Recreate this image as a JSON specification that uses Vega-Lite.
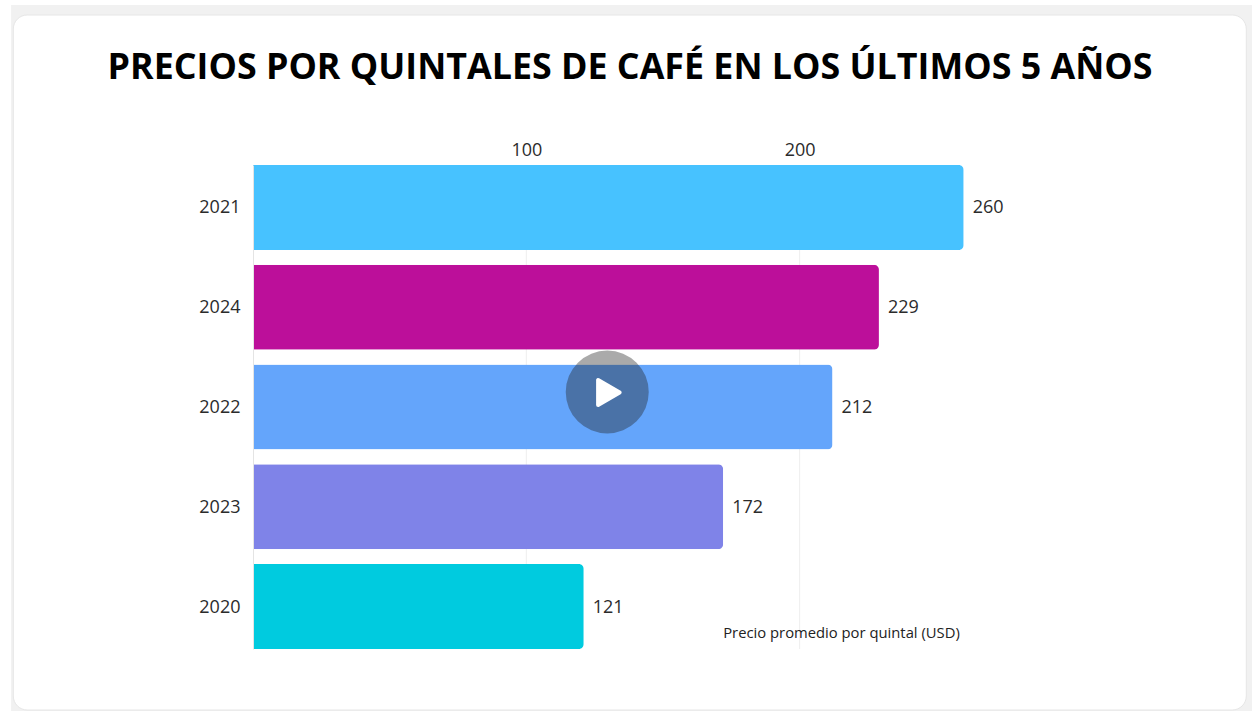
{
"$schema":"https://vega.github.io/schema/vega-lite/v6.json",
"autosize":{"type":"none"},
"width":820,"height":484,
"padding":{"left":253,"top":165,"right":179,"bottom":62},
"background":"#ffffff",
"config":{"view":{"stroke":null},"font":"Open Sans"},
"title":{"text":"PRECIOS POR QUINTALES DE CAFÉ EN LOS ÚLTIMOS 5 AÑOS","font":"Open Sans","fontSize":35.8,"fontWeight":"bold","color":"#000000","anchor":"middle","dx":-33,"offset":-110,"baseline":"alphabetic"},
"datasets":{
"precios":[
{"anio":"2021","precio":260},
{"anio":"2024","precio":229},
{"anio":"2022","precio":212},
{"anio":"2023","precio":172},
{"anio":"2020","precio":121}],
"fondo":[{"x0":-88.5,"x1":370,"y0":5,"y1":720}],
"tarjeta":[{"x0":-87.7,"x1":363.4,"y0":15,"y1":710}],
"rejilla":[{"x":100},{"x":200}],
"reproducir":[{"x":129.6,"y":392}],
"triangulo":[{"x":130.2,"y":392.5}]
},
"resolve":{"scale":{"y":"independent"},"axis":{"y":"independent"}},
"layer":[
{"data":{"name":"fondo"},"mark":{"type":"rect","color":"#f1f1f1","clip":false},
"encoding":{"x":{"field":"x0","type":"quantitative","scale":{"domain":[0,300]},
"axis":{"orient":"top","values":[100,200],"grid":false,"ticks":false,"domain":false,"labelFont":"Open Sans","labelFontSize":18,"labelColor":"#2b2b2b","labelPadding":6,"zindex":1,
"title":"Precio promedio por quintal (USD)","titleFont":"Open Sans","titleFontSize":14.8,"titleFontWeight":"normal","titleColor":"#222222","titleX":588,"titleY":472,"titleAlign":"center","titleBaseline":"alphabetic"}},"x2":{"field":"x1"},
"y":{"field":"y0","type":"quantitative","scale":{"domain":[165,649],"reverse":true},"axis":null},"y2":{"field":"y1"}}},
{"data":{"name":"tarjeta"},"mark":{"type":"rect","color":"#ffffff","cornerRadius":14,"stroke":"#e6e6e6","strokeWidth":1,"clip":false},
"encoding":{"x":{"field":"x0","type":"quantitative","scale":{"domain":[0,300]}},"x2":{"field":"x1"},
"y":{"field":"y0","type":"quantitative","scale":{"domain":[165,649],"reverse":true},"axis":null},"y2":{"field":"y1"}}},
{"data":{"name":"rejilla"},"mark":{"type":"rule","color":"#eeeeee","strokeWidth":1},
"encoding":{"x":{"field":"x","type":"quantitative","scale":{"domain":[0,300]}}}},
{"data":{"name":"precios"},"mark":{"type":"bar","cornerRadiusEnd":5},
"encoding":{
"y":{"field":"anio","type":"nominal","sort":["2021","2024","2022","2023","2020"],"scale":{"type":"band","paddingInner":0.148,"paddingOuter":0},
"axis":{"title":null,"ticks":false,"domain":true,"domainColor":"#e4e4e4","labelFont":"Open Sans","labelFontSize":18,"labelColor":"#2b2b2b","labelPadding":13,"labelOffset":1,"zindex":1}},
"x":{"field":"precio","type":"quantitative","scale":{"domain":[0,300]}},
"color":{"field":"anio","type":"nominal","legend":null,"scale":{"domain":["2021","2024","2022","2023","2020"],"range":["#47c2ff","#bc0f9a","#64a5fb","#7f83e8","#00cbdf"]}}}},
{"data":{"name":"precios"},"mark":{"type":"text","align":"left","baseline":"middle","dx":9,"dy":1,"font":"Open Sans","fontSize":18,"color":"#2b2b2b"},
"encoding":{
"y":{"field":"anio","type":"nominal","sort":["2021","2024","2022","2023","2020"],"scale":{"type":"band","paddingInner":0.148,"paddingOuter":0},"axis":null},
"x":{"field":"precio","type":"quantitative","scale":{"domain":[0,300]}},
"text":{"field":"precio","type":"quantitative"}}},
{"data":{"name":"reproducir"},"mark":{"type":"point","shape":"circle","filled":true,"size":6889,"color":"#202020","opacity":0.38},
"encoding":{"x":{"field":"x","type":"quantitative","scale":{"domain":[0,300]}},
"y":{"field":"y","type":"quantitative","scale":{"domain":[165,649],"reverse":true},"axis":null}}},
{"data":{"name":"triangulo"},"mark":{"type":"point","shape":"triangle-right","filled":true,"size":620,"color":"#ffffff","opacity":1,"stroke":"#ffffff","strokeWidth":4,"strokeJoin":"round"},
"encoding":{"x":{"field":"x","type":"quantitative","scale":{"domain":[0,300]}},
"y":{"field":"y","type":"quantitative","scale":{"domain":[165,649],"reverse":true},"axis":null}}}
]
}
